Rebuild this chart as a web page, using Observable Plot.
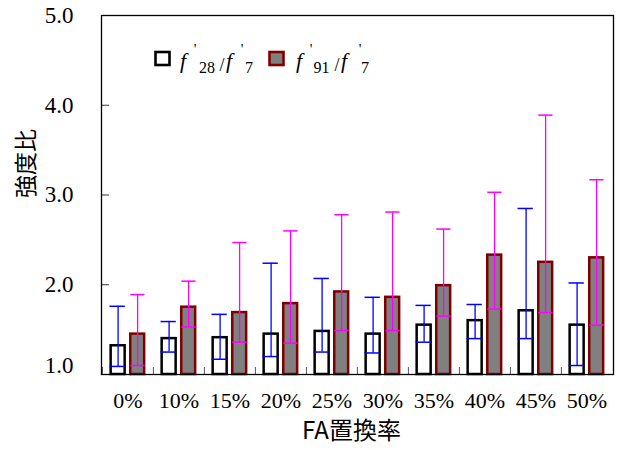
<!DOCTYPE html>
<html><head><meta charset="utf-8">
<script src="https://cdn.jsdelivr.net/npm/d3@7"></script>
<script src="https://cdn.jsdelivr.net/npm/@observablehq/plot@0.6"></script>
<style>body{margin:0;background:#fff} #chart{position:relative;width:619px;height:450px}
#chart .serif text, #chart text.serif, #chart text.serif tspan {font-family: 'Liberation Serif', serif;}
</style>
</head><body><div id="chart"></div>
<script>
const categories = ["0%","10%","15%","20%","25%","30%","35%","40%","45%","50%"];
const ratio28     = [1.32,1.40,1.41,1.45,1.48,1.45,1.55,1.60,1.71,1.55];
const ratio28Low  = [1.09,1.25,1.17,1.20,1.25,1.24,1.36,1.40,1.40,1.10];
const ratio28High = [1.76,1.59,1.67,2.24,2.07,1.86,1.77,1.78,2.85,2.02];
const ratio91     = [1.45,1.75,1.69,1.79,1.92,1.86,1.99,2.33,2.25,2.30];
const ratio91Low  = [1.10,1.53,1.36,1.35,1.49,1.49,1.65,1.73,1.69,1.55];
const ratio91High = [1.89,2.04,2.47,2.60,2.78,2.81,2.62,3.03,3.89,3.17];
const yTicks = [1,2,3,4,5];
const xTitle = "FA置換率";
const yTitle = "強度比";

const rows = categories.map((c,i)=>({cat:c, v28:ratio28[i], lo28:ratio28Low[i], hi28:ratio28High[i],
  v91:ratio91[i], lo91:ratio91Low[i], hi91:ratio91High[i]}));

const serif = "Liberation Serif";
const cjk = "Noto Sans CJK JP";

const plot = Plot.plot({
  width: 619, height: 450,
  marginLeft: 101, marginRight: 6, marginTop: 15, marginBottom: 76,
  x: {type: "band", domain: categories, paddingInner: 0, paddingOuter: 0, axis: null},
  y: {domain: [1,5], axis: null},
  style: {background: "white"},
  marks: [
    Plot.barY(rows, {x:"cat", y1:1, y2:"v28", fill:"white", stroke:"black", strokeWidth:2.5, insetLeft:8.65, insetRight:28.35}),
    Plot.barY(rows, {x:"cat", y1:1, y2:"v91", fill:"#808080", stroke:"#800000", strokeWidth:2.5, insetLeft:28.25, insetRight:8.85}),
    Plot.ruleX(rows, {x:"cat", y1:"lo28", y2:"hi28", stroke:"#0000ff", strokeWidth:1.3, dx:-9.9}),
    Plot.tickY(rows, {x:"cat", y:"hi28", stroke:"#0000ff", strokeWidth:1.5, insetLeft:7.5, insetRight:28.2}),
    Plot.tickY(rows, {x:"cat", y:"lo28", stroke:"#0000ff", strokeWidth:1.5, insetLeft:7.5, insetRight:28.2}),
    Plot.ruleX(rows, {x:"cat", y1:"lo91", y2:"hi91", stroke:"#ff00ff", strokeWidth:1.3, dx:9.6}),
    Plot.tickY(rows, {x:"cat", y:"hi91", stroke:"#ff00ff", strokeWidth:1.5, insetLeft:28.3, insetRight:8.5}),
    Plot.tickY(rows, {x:"cat", y:"lo91", stroke:"#ff00ff", strokeWidth:1.5, insetLeft:28.3, insetRight:8.5}),
    Plot.axisX({tickSize:0, tickPadding:18, fontSize:22, fontFamily:serif, className:"serif", fill:"black", label:null}),
    Plot.axisX({tickSize:-7, tickFormat:()=>"", dx:-25.6, stroke:"#555", label:null}),
    Plot.axisY({ticks: yTicks.slice(1), tickSize:0, tickPadding:28, tickFormat:d3.format(".1f"), fontSize:23, fontFamily:serif, className:"serif", fill:"black", label:null}),
    Plot.axisY({ticks: yTicks.slice(0,1), tickSize:0, tickPadding:28, dy:-9, tickFormat:d3.format(".1f"), fontSize:23, fontFamily:serif, className:"serif", fill:"black", label:null}),
    Plot.axisY({ticks: yTicks, tickSize:-8, tickFormat:()=>"", stroke:"#333", label:null}),
    Plot.frame({stroke:"black", strokeWidth:1.3}),
    Plot.text([yTitle], {text:d=>d, frameAnchor:"left", dx:-75, dy:3, rotate:-90, fontSize:23, fontFamily:cjk, fill:"black"}),
    Plot.text([xTitle], {text:d=>d, frameAnchor:"bottom", dx:-6, dy:64, fontSize:24, fontFamily:cjk, fill:"black"})
  ]
});

// legend
const svg = d3.select(plot);
const lg = svg.append("g");
lg.append("rect").attr("x",155.5).attr("y",52).attr("width",14).attr("height",13)
  .attr("fill","white").attr("stroke","black").attr("stroke-width",2.6);
lg.append("rect").attr("x",269.5).attr("y",52).attr("width",14).attr("height",13)
  .attr("fill","#808080").attr("stroke","#800000").attr("stroke-width",2.6);
function label(parts){
  const t = lg.append("text").attr("class","serif").attr("font-family", serif).attr("fill","black");
  parts.forEach(p=>{
    t.append("tspan").attr("x",p[0]).attr("y",p[1]).attr("font-size",p[2])
      .attr("font-style", p[3] ? "italic" : "normal").text(p[4]);
  });
}
label([[183,68,22,1,"f"],[195,54,15,0,"'"],[207,73,16,0,"28"],[222,71,18,0,"/"],[229,68,22,1,"f"],[242,54,15,0,"'"],[249,73,16,0,"7"]]);
label([[299,68,22,1,"f"],[311,54,15,0,"'"],[321.5,73,16,0,"91"],[337,71,18,0,"/"],[344,68,22,1,"f"],[360,54,15,0,"'"],[365,73,16,0,"7"]]);

document.getElementById("chart").appendChild(plot);
</script></body></html>
